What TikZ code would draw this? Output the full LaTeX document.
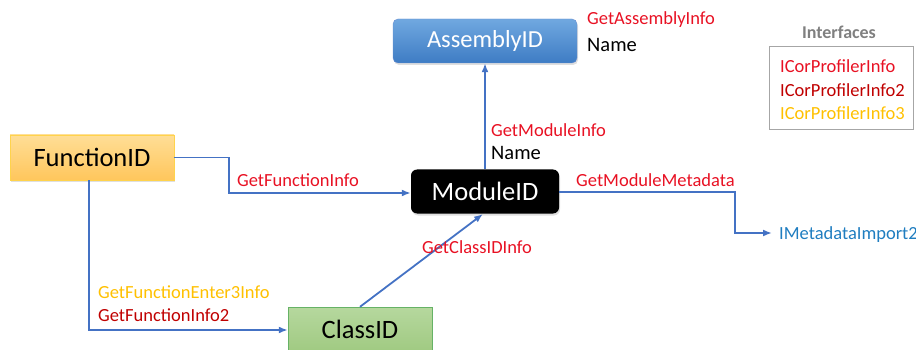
\documentclass[tikz,border=0pt]{standalone}
\usepackage{fontspec}
\setmainfont{Carlito}
\usetikzlibrary{positioning,arrows.meta,shadows}
\definecolor{lnk}{HTML}{4472C4}
\definecolor{red1}{HTML}{E81123}
\definecolor{red2}{HTML}{C00000}
\definecolor{gold}{HTML}{FFC000}
\definecolor{mdblue}{HTML}{1F7DC0}
\begin{document}
\begin{tikzpicture}[x=1pt,y=-1pt]
\tikzstyle{box}=[minimum height=44pt, inner sep=0pt, font=\fontsize{26.5}{30}\selectfont,
  drop shadow={shadow xshift=1pt, shadow yshift=-2pt, opacity=0.25}]
\tikzstyle{lbl}=[inner sep=0pt, anchor=west, text height=12pt, text depth=0pt, font=\fontsize{18.5}{21}\selectfont]
\tikzstyle{con}=[draw=lnk, line width=1.8pt, -{Latex[length=9pt,width=7pt]}]
\useasboundingbox (0,0) rectangle (916,350);

% id boxes
\node[box, rounded corners=5pt, top color={rgb,255:red,112;green,168;blue,224}, bottom color={rgb,255:red,62;green,124;blue,196}, draw=lnk!80, text=white, minimum width=184pt, font=\fontsize{24.5}{28}\selectfont] (asm) at (485,41) {AssemblyID};
\node[box, rounded corners=6pt, fill=black, text=white, minimum width=148pt] (mod) at (485,191.5) {ModuleID};
\node[box, top color={rgb,255:red,255;green,222;blue,150}, bottom color={rgb,255:red,255;green,198;blue,92}, draw=gold!70, minimum width=164pt, minimum height=45pt] (fun) at (92,157.5) {FunctionID};
\node[box, top color={rgb,255:red,182;green,216;blue,158}, bottom color={rgb,255:red,160;green,202;blue,130}, draw=green!50!black!60, minimum width=144pt] (cls) at (360,329) {ClassID};

% interfaces legend
\draw[gray!70, line width=1pt] (769,47) rectangle (913,130);
\node[lbl, anchor=center, text=gray, font=\fontsize{18}{21}\selectfont\bfseries] (ifc) at (839,33) {Interfaces};
\node[lbl, text=red1] (if1) at (780,67) {ICorProfilerInfo};
\node[lbl, text=red2] (if2) at (780,90.5) {ICorProfilerInfo2};
\node[lbl, text=gold] (if3) at (780,114) {ICorProfilerInfo3};

% connectors
\coordinate (mdi) at (772,233);
\draw[con] (fun.east) -| (229,193) -- (mod.west |- 0,193);
\draw[con] (mod.north) -- (asm.south);
\draw[con] (mod.east |- 0,192) -| (735,233) -- (mdi);
\draw[con] (fun.south -| 89,0) |- (cls.west |- 0,330);
\draw[con] (cls.north) -- (483,214);

% labels
\node[lbl, text=red1] (gai) at (587,19) {GetAssemblyInfo};
\node[lbl, font=\fontsize{20.5}{23}\selectfont] (an) at (587,45.5) {Name};
\node[lbl, text=red1] (gmi) at (491,131) {GetModuleInfo};
\node[lbl, font=\fontsize{20.5}{23}\selectfont] (mn) at (491,154) {Name};
\node[lbl, text=red1] (gfi) at (237,180) {GetFunctionInfo};
\node[lbl, text=red1] (gmm) at (576,180) {GetModuleMetadata};
\node[lbl, text=mdblue, right=7pt of mdi] (imd) {IMetadataImport2};
\node[lbl, text=red1] (gci) at (422,247) {GetClassIDInfo};
\node[lbl, text=gold] (gfe) at (98,292) {GetFunctionEnter3Info};
\node[lbl, text=red2] (gf2) at (98,315) {GetFunctionInfo2};
\end{tikzpicture}
\end{document}
